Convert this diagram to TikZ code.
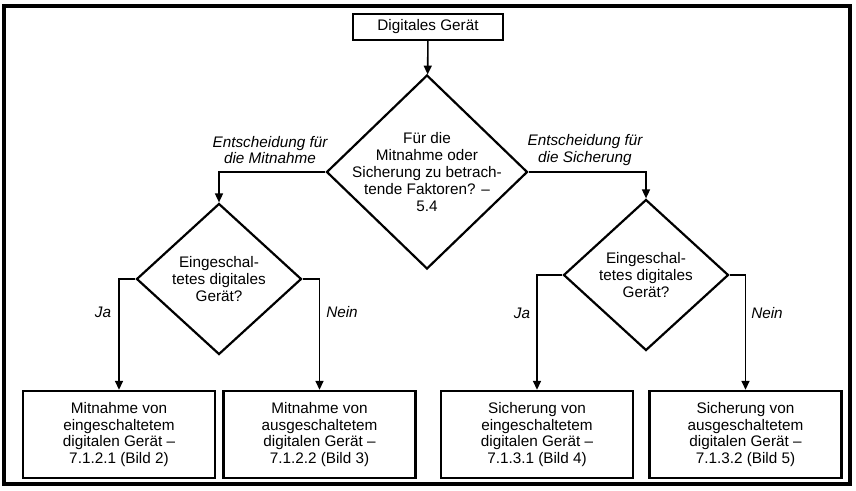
\documentclass[tikz,border=0pt]{standalone}
\usepackage{fontspec}
\setmainfont{Liberation Sans}
\usetikzlibrary{shapes.geometric,arrows.meta}

\begin{document}
\begin{tikzpicture}[x=1pt,y=-1pt,
  font=\fontsize{15.3}{16.8}\selectfont,
  box/.style={draw, line width=2.4pt, align=center, minimum width=192pt, minimum height=87pt, inner sep=0pt},
  decision/.style={draw, diamond, line width=2.2pt, inner sep=0pt},
  flow/.style={line width=1.6pt, -{Triangle[length=9pt,width=8pt]}},
  note/.style={font=\fontsize{15.3}{16.8}\selectfont\itshape, align=center}]
\useasboundingbox (0,0) rectangle (856,490);
\draw[line width=3.6pt] (4,6) rectangle (850,484);

\node[box, minimum width=150pt, minimum height=26pt] (start) at (428,27) {Digitales Gerät};
\node[decision, minimum width=201pt, minimum height=194pt] (q0) at (427,172) {};
\node[align=center] (t0) at (q0) {Für die\\Mitnahme oder\\Sicherung zu betrach-\\tende Faktoren? –\\5.4};

\node[decision, minimum width=165pt, minimum height=151pt] (q1) at (219,279) {};
\node[align=center] (t1) at (q1) {Eingeschal-\\tetes digitales\\Gerät?};
\node[decision, minimum width=165pt, minimum height=151pt] (q2) at (646,275) {};
\node[align=center] (t2) at (q2) {Eingeschal-\\tetes digitales\\Gerät?};

\node[box] (b1) at (119,434.5) {Mitnahme von\\eingeschaltetem\\digitalen Gerät –\\7.1.2.1 (Bild 2)};
\node[box] (b2) at (319.5,434.5) {Mitnahme von\\ausgeschaltetem\\digitalen Gerät –\\7.1.2.2 (Bild 3)};
\node[box] (b3) at (537,434.5) {Sicherung von\\eingeschaltetem\\digitalen Gerät –\\7.1.3.1 (Bild 4)};
\node[box] (b4) at (745.5,434.5) {Sicherung von\\ausgeschaltetem\\digitalen Gerät –\\7.1.3.2 (Bild 5)};

% connectors
\draw[flow] (start) -- (q0);
\draw[flow] (q0.west) -| (q1.north);
\draw[flow] (q0.east) -| (q2.north);
\draw[flow] (q1.west) -| (b1.north);
\draw[flow] (q1.east) -| (b2.north);
\draw[flow] (q2.west) -| (b3.north);
\draw[flow] (q2.east) -| (b4.north);

% labels
\node[note] (l1) at (270,150) {Entscheidung für\\die Mitnahme};
\node[note] (l2) at (585,150) {Entscheidung für\\die Sicherung};
\node[note] (ja1) at (103,312) {Ja};
\node[note] (nein1) at (342,312) {Nein};
\node[note] (ja2) at (522,313) {Ja};
\node[note] (nein2) at (767,313) {Nein};
\end{tikzpicture}
\end{document}
